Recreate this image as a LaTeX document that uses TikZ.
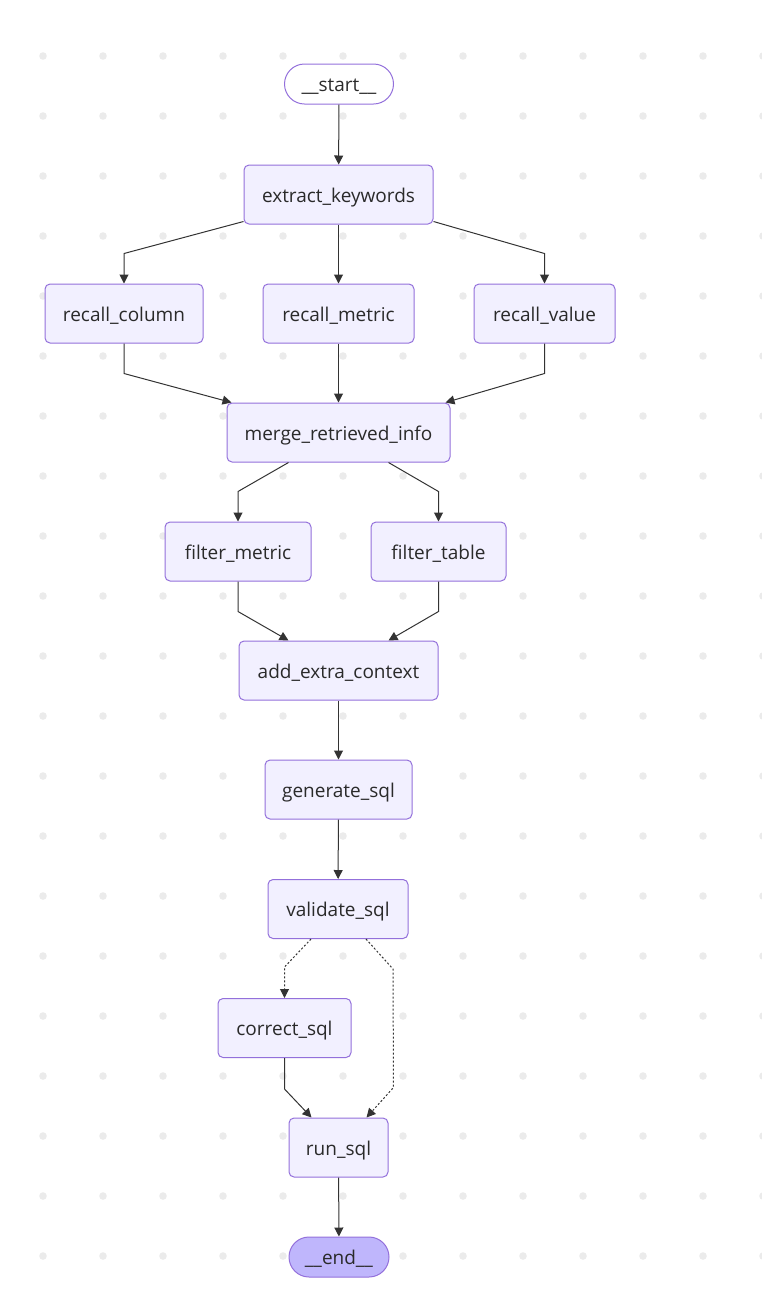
\documentclass[tikz,border=0pt]{standalone}
\usepackage{fontspec}
\setmainfont{Open Sans}
\usetikzlibrary{arrows.meta}
\definecolor{nodefill}{HTML}{F2F0FF}
\definecolor{nodeline}{HTML}{9370DB}
\definecolor{endfill}{HTML}{BFB6FC}
\definecolor{edgec}{HTML}{333333}
\definecolor{textc}{HTML}{2A2A2A}
\definecolor{dotc}{HTML}{EBEBEB}
\tikzset{
  box/.style={draw=nodeline, fill=nodefill, line width=1pt, rounded corners=5pt,
    minimum height=59pt, inner sep=0pt, text height=15pt, text depth=0pt,
    text=textc, font=\fontsize{19}{22}\selectfont},
  term/.style={box, rounded corners=20pt, minimum height=40pt},
  edge/.style={draw=edgec, line width=1pt, -{Triangle[length=9pt,width=9pt]}},
  cond/.style={edge, dash pattern=on 2pt off 2pt}
}
\begin{document}
\begin{tikzpicture}[x=1pt, y=-1pt]
  \useasboundingbox (0,0) rectangle (762,1310);
  % dot grid
  \foreach \i in {0,...,12}
    \foreach \j in {0,...,20}
      \fill[dotc] (43+60*\i, 56+60*\j) circle (3.8pt);
  % nodes
  \node[term, fill=none, minimum width=109pt] (start) at (339,84) {\_\_start\_\_};
  \node[box, minimum width=189pt] (extract) at (338.5,194.5) {extract\_keywords};
  \node[box, minimum width=158pt] (rcol) at (124,313.5) {recall\_column};
  \node[box, minimum width=151pt] (rmet) at (338.5,313.5) {recall\_metric};
  \node[box, minimum width=141pt] (rval) at (544.5,313.5) {recall\_value};
  \node[box, minimum width=223pt] (merge) at (338.5,432.5) {merge\_retrieved\_info};
  \node[box, minimum width=146pt] (fmet) at (238,551.5) {filter\_metric};
  \node[box, minimum width=135pt] (ftab) at (438.5,551.5) {filter\_table};
  \node[box, minimum width=199pt] (addctx) at (338.5,670.5) {add\_extra\_context};
  \node[box, minimum width=147pt] (gen) at (338.5,789.5) {generate\_sql};
  \node[box, minimum width=140pt] (val) at (338,909) {validate\_sql};
  \node[box, minimum width=133pt] (corr) at (284.5,1028) {correct\_sql};
  \node[box, minimum width=99pt] (run) at (338.5,1147.5) {run\_sql};
  \node[term, fill=endfill, minimum width=100pt] (end) at (339,1257) {\_\_end\_\_};
  % edges
  \draw[edge] (start) -- (extract);
  \draw[edge] ([yshift=3pt]extract.south west) -- ([yshift=30pt]rcol.north) -- (rcol.north);
  \draw[edge] (extract) -- (rmet);
  \draw[edge] ([yshift=3pt]extract.south east) -- ([yshift=30pt]rval.north) -- (rval.north);
  \draw[edge] (rcol.south) -- ([yshift=-30pt]rcol.south) -- ([xshift=5pt]merge.north west);
  \draw[edge] (rmet) -- (merge);
  \draw[edge] (rval.south) -- ([yshift=-30pt]rval.south) -- ([xshift=-5pt]merge.north east);
  \draw[edge] ([xshift=-50pt]merge.south) -- ([yshift=30pt]fmet.north) -- (fmet.north);
  \draw[edge] ([xshift=50pt]merge.south) -- ([yshift=30pt]ftab.north) -- (ftab.north);
  \draw[edge] (fmet.south) -- ([yshift=-30pt]fmet.south) -- ([xshift=-50pt]addctx.north);
  \draw[edge] (ftab.south) -- ([yshift=-30pt]ftab.south) -- ([xshift=50pt]addctx.north);
  \draw[edge] (addctx) -- (gen);
  \draw[edge] (gen) -- (val);
  \draw[cond] ([xshift=-27pt]val.south) -- ([yshift=31pt]corr.north) -- (corr.north);
  \draw[cond] ([xshift=28pt]val.south) -- ([xshift=55pt,yshift=-30pt]val.south)
    -- ([xshift=55pt,yshift=30pt]run.north) -- ([xshift=28pt]run.north);
  \draw[edge] (corr.south) -- ([yshift=-31pt]corr.south) -- ([xshift=-27pt]run.north);
  \draw[edge] (run) -- (end);
\end{tikzpicture}
\end{document}
